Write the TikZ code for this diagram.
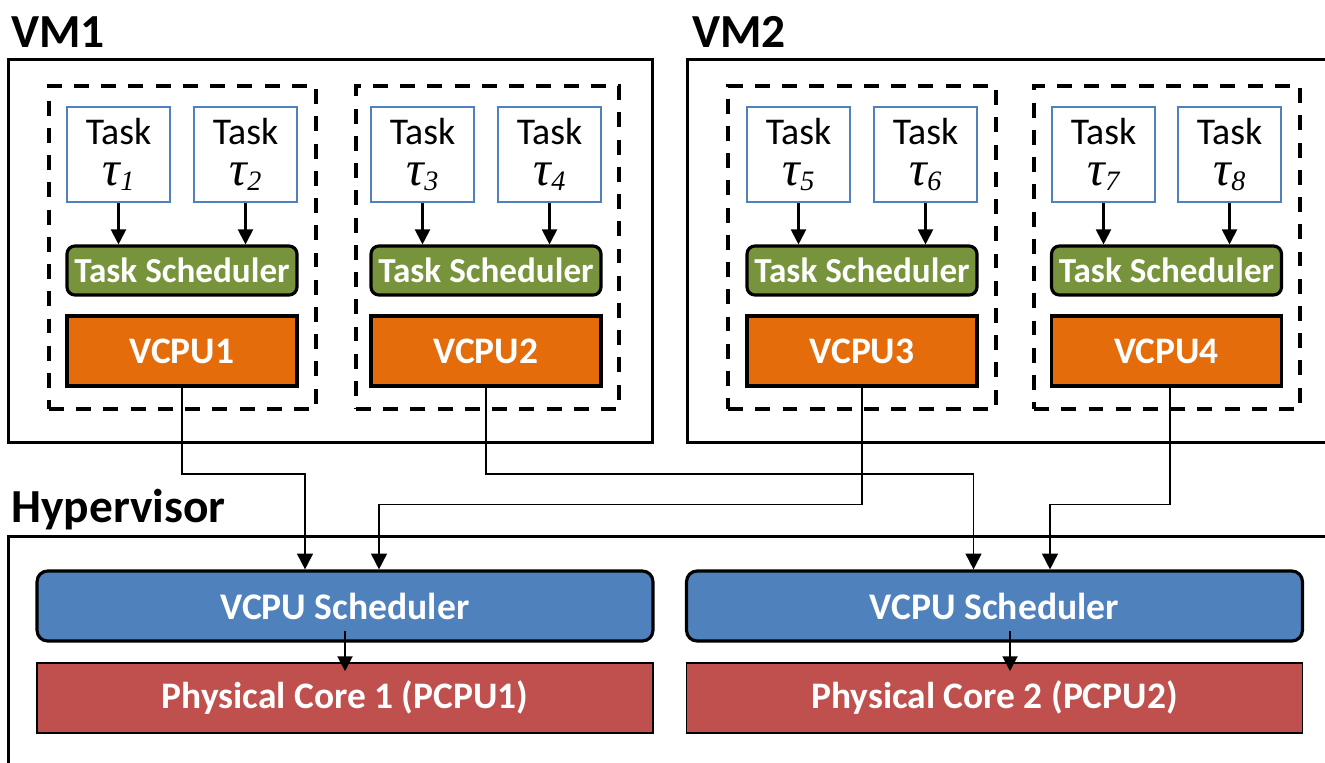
\documentclass[tikz,border=0pt]{standalone}
\usepackage{fontspec}
\setmainfont{Carlito}
\newfontfamily\taufont{Liberation Serif}
\usetikzlibrary{arrows.meta}

\definecolor{TaskBlue}{HTML}{4f81bd}
\definecolor{SchedGreen}{HTML}{77933c}
\definecolor{VcpuOrange}{HTML}{e46c0a}
\definecolor{HypBlue}{HTML}{4f81bd}
\definecolor{CoreRed}{HTML}{c0504d}

\newcommand{\tasklabel}[1]{Task\\[0pt]{\taufont\itshape\fontsize{28}{28}\selectfont τ\raisebox{-3pt}{\fontsize{16}{16}\selectfont #1}}}

\tikzstyle{vm-box}=[draw, line width=1.7pt, inner sep=0pt]
\tikzstyle{group-box}=[draw, line width=1.9pt, dash pattern=on 8.5pt off 7pt, inner sep=0pt]
\tikzstyle{task-box}=[draw=TaskBlue, line width=1.5pt, fill=white, inner sep=0pt, minimum width=2.06cm, minimum height=1.9cm, align=center, font=\fontsize{21.5}{23}\selectfont]
\tikzstyle{task-sched}=[draw, line width=1.8pt, fill=SchedGreen, rounded corners=4.5pt, inner sep=0pt, minimum width=4.6cm, minimum height=0.98cm, text=white, font=\bfseries\fontsize{20}{20}\selectfont]
\tikzstyle{vcpu-box}=[draw, line width=1.8pt, fill=VcpuOrange, inner sep=0pt, minimum width=4.6cm, minimum height=1.4cm, text=white, font=\bfseries\fontsize{21.3}{21.3}\selectfont]
\tikzstyle{vcpu-sched}=[draw, line width=1.8pt, fill=HypBlue, rounded corners=6pt, inner sep=0pt, minimum width=12.32cm, minimum height=1.4cm, text=white, font=\bfseries\fontsize{21.4}{21.4}\selectfont]
\tikzstyle{core-box}=[draw, line width=0.9pt, fill=CoreRed, inner sep=0pt, minimum width=12.32cm, minimum height=1.4cm, text=white, font=\bfseries\fontsize{21.3}{21.3}\selectfont]
\tikzstyle{layer-label}=[anchor=base west, inner sep=0pt, font=\bfseries\fontsize{27}{27}\selectfont]
\tikzstyle{task-link}=[line width=1.2pt, -{Triangle[length=8.5pt, width=8.5pt]}]
\tikzstyle{vcpu-link}=[line width=1pt, -{Triangle[length=9pt, width=9pt]}]

\begin{document}
\begin{tikzpicture}[x=0.02cm, y=-0.02cm]
      \clip (0,0) rectangle (1325,762);

      \node (vm1-label) at (11, 47) [layer-label] {VM1};
      \node (vm2-label) at (692, 47) [layer-label] {VM2};
      \node (hyp-label) at (11, 522) [layer-label] {Hypervisor};

      \node (vm1) at (330.5, 251) [vm-box, minimum width=12.9cm, minimum height=7.68cm] {};
      \node (vm2) at (1013.5, 251) [vm-box, minimum width=13.06cm, minimum height=7.68cm] {};
      \node (hyp) at (674, 658) [vm-box, minimum width=26.64cm, minimum height=4.88cm] {};

      \node (grp1) at (182.5, 247.5) [group-box, minimum width=5.34cm, minimum height=6.46cm] {};
      \node (grp2) at (487.5, 247.5) [group-box, minimum width=5.26cm, minimum height=6.46cm] {};
      \node (grp3) at (862, 247.5) [group-box, minimum width=5.36cm, minimum height=6.46cm] {};
      \node (grp4) at (1167, 247.5) [group-box, minimum width=5.32cm, minimum height=6.46cm] {};

      \node (task1) at (118.5, 154.5) [task-box] {\tasklabel{1}};
      \node (task2) at (245.5, 154.5) [task-box] {\tasklabel{2}};
      \node (task3) at (422.5, 154.5) [task-box] {\tasklabel{3}};
      \node (task4) at (549.5, 154.5) [task-box] {\tasklabel{4}};
      \node (task5) at (798.5, 154.5) [task-box] {\tasklabel{5}};
      \node (task6) at (925.5, 154.5) [task-box] {\tasklabel{6}};
      \node (task7) at (1103.5, 154.5) [task-box] {\tasklabel{7}};
      \node (task8) at (1229.5, 154.5) [task-box] {\tasklabel{8}};

      \node (tsched1) at (182, 270.5) [task-sched] {Task Scheduler};
      \node (tsched2) at (486, 270.5) [task-sched] {Task Scheduler};
      \node (tsched3) at (862, 270.5) [task-sched] {Task Scheduler};
      \node (tsched4) at (1166.5, 270.5) [task-sched] {Task Scheduler};

      \node (vcpu1) at (182, 351) [vcpu-box] {VCPU1};
      \node (vcpu2) at (486, 351) [vcpu-box] {VCPU2};
      \node (vcpu3) at (862, 351) [vcpu-box] {VCPU3};
      \node (vcpu4) at (1166.5, 351) [vcpu-box] {VCPU4};

      \node (sched1) at (345, 606) [vcpu-sched] {VCPU Scheduler};
      \node (sched2) at (994.5, 606) [vcpu-sched] {VCPU Scheduler};
      \node (core1) at (345, 698) [core-box] {Physical Core 1 (PCPU1)};
      \node (core2) at (994.5, 698) [core-box] {Physical Core 2 (PCPU2)};

      \draw[task-link] (task1.south) -- (task1.south |- tsched1.north);
      \draw[task-link] (task2.south) -- (task2.south |- tsched1.north);
      \draw[task-link] (task3.south) -- (task3.south |- tsched2.north);
      \draw[task-link] (task4.south) -- (task4.south |- tsched2.north);
      \draw[task-link] (task5.south) -- (task5.south |- tsched3.north);
      \draw[task-link] (task6.south) -- (task6.south |- tsched3.north);
      \draw[task-link] (task7.south) -- (task7.south |- tsched4.north);
      \draw[task-link] (task8.south) -- (task8.south |- tsched4.north);

      \draw[vcpu-link] (vcpu1.south) -- ++(0, 86.5) -| ([xshift=-0.8cm]sched1.north);
      \draw[vcpu-link] (vcpu2.south) -- ++(0, 86.5) -| ([xshift=-0.42cm]sched2.north);
      \draw[vcpu-link] (vcpu3.south) -- ++(0, 117) -| ([xshift=0.68cm]sched1.north);
      \draw[vcpu-link] ([xshift=0.07cm]vcpu4.south) -- ++(0, 117) -| ([xshift=1.11cm]sched2.north);

      \draw[task-link] ([yshift=0.24cm]sched1.south) -- ([yshift=-0.18cm]core1.north);
      \draw[task-link] ([xshift=0.31cm, yshift=0.24cm]sched2.south) -- ([xshift=0.31cm, yshift=-0.18cm]core2.north);
\end{tikzpicture}
\end{document}
